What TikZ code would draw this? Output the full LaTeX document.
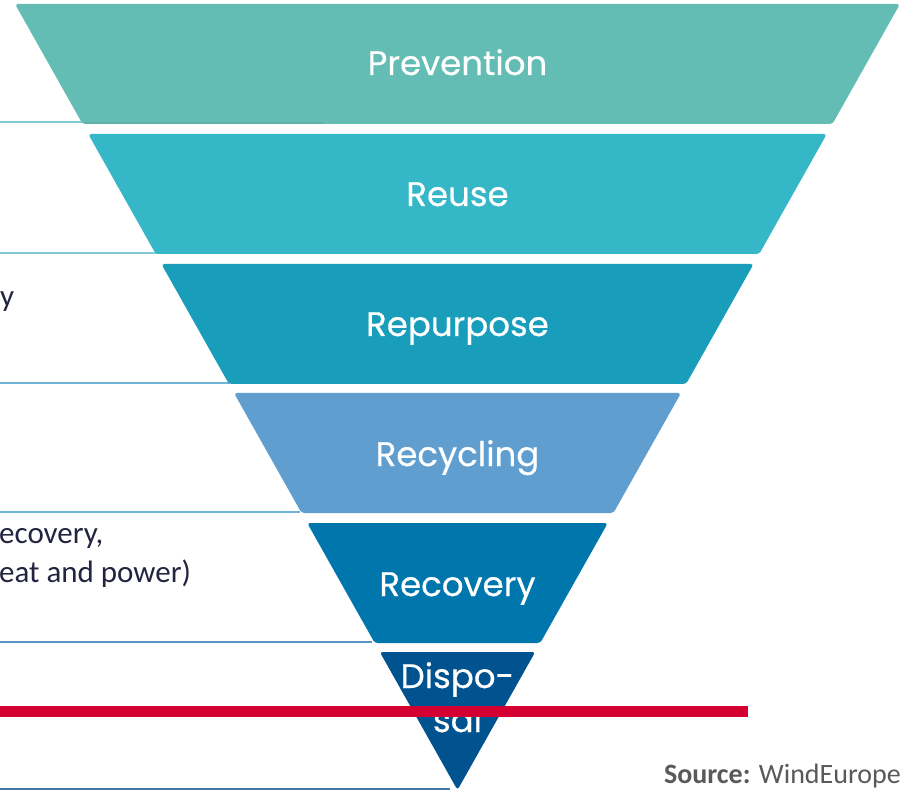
\documentclass[tikz,border=0pt]{standalone}
\usepackage{fontspec}
\setmainfont{Carlito}
\newfontfamily\bandfont[FakeBold=0.4]{Poppins}
\usetikzlibrary{calc}
\definecolor{preventioncol}{HTML}{64BDB5}
\definecolor{reusecol}{HTML}{35B7C7}
\definecolor{repurposecol}{HTML}{189EBB}
\definecolor{recyclingcol}{HTML}{5F9ECE}
\definecolor{recoverycol}{HTML}{0077AC}
\definecolor{disposalcol}{HTML}{00538F}
\definecolor{barred}{HTML}{D50032}
\definecolor{inkcol}{HTML}{23243F}
\definecolor{sourcecol}{HTML}{595959}
\definecolor{rowA}{HTML}{80CCD4}
\definecolor{rowB}{HTML}{6FB3D6}
\definecolor{rowC}{HTML}{5A93C2}
\definecolor{rowD}{HTML}{4479A6}
\tikzstyle{band}=[rounded corners=3pt]
\tikzstyle{bandlabel}=[font=\bandfont\fontsize{34}{40}\selectfont, text=white, anchor=base, inner sep=0pt]
\tikzstyle{rowline}=[line width=1.6pt]
\tikzstyle{cuttext}=[font=\fontsize{31}{36}\selectfont, text=inkcol, anchor=base west, inner sep=0pt]
\tikzstyle{sourcetext}=[font=\fontsize{28}{34}\selectfont, text=sourcecol, anchor=base east, inner sep=0pt]
\tikzstyle{redbar}=[draw=barred, line width=11pt]

\begin{document}
\begin{tikzpicture}[x=1pt, y=-1pt]
    \useasboundingbox (0,0) rectangle (905,791);
    % Rules of the table behind the funnel
    \foreach \y/\xend/\col in {122/323/rowA, 253/160/rowA, 383/230/rowB, 512/300/rowB, 642/372/rowC}
        \draw[rowline, \col] (0,\y) -- (\xend,\y);
    \draw[rowline, rowD, line width=2.4pt] (0,789) -- (450,789);

    % Cut-off text of the table
    \node[cuttext] (cuty) at (0,307) {y};
    \node[cuttext] (cutrecovery) at (-1,543) {ecovery,};
    \node[cuttext] (cutheat) at (-1,582) {eat and power)};

    % First we draw the bands of the funnel
    \foreach \top/\col in {4/preventioncol, 134/reusecol, 264/repurposecol, 393/recyclingcol, 523/recoverycol}
    {
        \pgfmathsetmacro{\bot}{\top+120}
        \pgfmathsetmacro{\wtop}{0.56298*(790-\top)}
        \pgfmathsetmacro{\wbot}{0.56298*(790-\bot)}
        \fill[band, \col] (457.5-\wtop,\top) -- (457.5+\wtop,\top)
            -- (457.5+\wbot,\bot) -- (457.5-\wbot,\bot) -- cycle;
    }
    \fill[band, disposalcol] (379.8,652) -- (535.2,652) -- (457.5,790) -- cycle;
    % the first rule shows faintly through the top band
    \draw[rowline, black, opacity=0.06] (84,123) -- (323,123);

    % Then the labels of the bands
    \foreach \name/\y/\label in {prevention/75/Prevention, reuse/206/Reuse, repurpose/336/Repurpose, recycling/466/Recycling, recovery/596/Recovery, dispo/688/Dispo-, sal/732/sal}
        \node[bandlabel] (\name) at (457.5,\y) {\label};

    % Red bar across the bottom band
    \draw[redbar] (0,711.5) -- (748,711.5);

    % Source
    \node[sourcetext] (source) at (901,783) {\textbf{Source:} WindEurope};
\end{tikzpicture}
\end{document}
